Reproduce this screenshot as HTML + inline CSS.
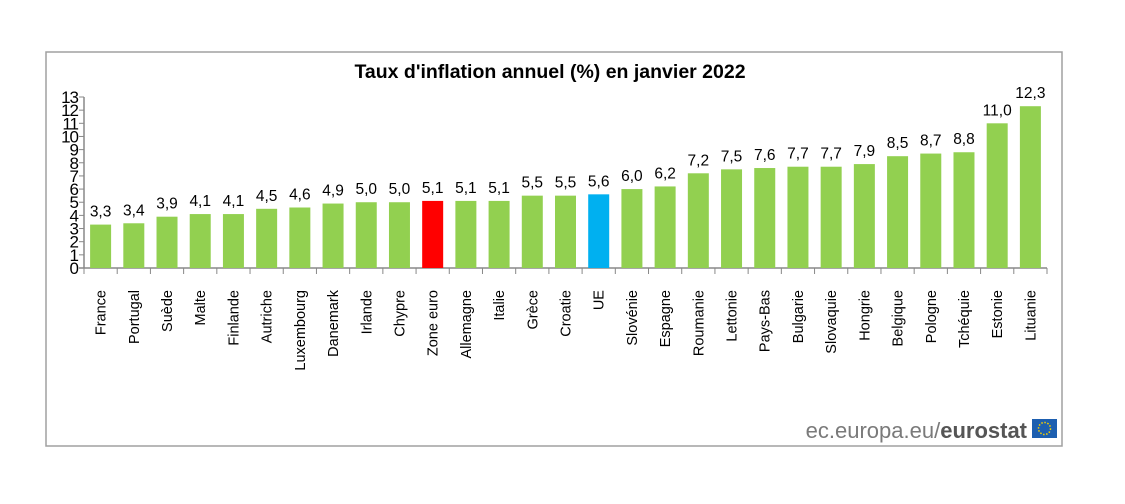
<!DOCTYPE html>
<html><head><meta charset="utf-8"><style>
body{margin:0;background:#fff;width:1125px;height:499px;overflow:hidden;font-family:"Liberation Sans",sans-serif}
</style></head><body>
<svg width="1125" height="499">
<rect x="46" y="52" width="1016" height="394" fill="#fff" stroke="#a0a0a0" stroke-width="1.5"/>
<text x="550" y="78" text-anchor="middle" font-size="19.5" font-weight="bold" fill="#000">Taux d'inflation annuel (%)  en janvier 2022</text>
<g id="plot"></g>
<text x="1027" y="438" text-anchor="end" font-size="22" fill="#7a7a7a">ec.europa.eu/<tspan font-weight="bold" fill="#555">eurostat</tspan></text>
<rect x="1032" y="419" width="25" height="19" fill="#1d5fb0"/>
<circle cx="1044.5" cy="428.5" r="6" fill="none" stroke="#f5d000" stroke-width="1.5" stroke-dasharray="1.5 1.6"/>
</svg>
<script>
const categories=["France","Portugal","Suède","Malte","Finlande","Autriche","Luxembourg","Danemark","Irlande","Chypre","Zone euro","Allemagne","Italie","Grèce","Croatie","UE","Slovénie","Espagne","Roumanie","Lettonie","Pays-Bas","Bulgarie","Slovaquie","Hongrie","Belgique","Pologne","Tchéquie","Estonie","Lituanie"];
const values=[3.3,3.4,3.9,4.1,4.1,4.5,4.6,4.9,5.0,5.0,5.1,5.1,5.1,5.5,5.5,5.6,6.0,6.2,7.2,7.5,7.6,7.7,7.7,7.9,8.5,8.7,8.8,11.0,12.3];
const yTicks=[0,1,2,3,4,5,6,7,8,9,10,11,12,13];
const NS="http://www.w3.org/2000/svg";
const g=document.getElementById('plot');
const x0=84,x1=1047,y0=268,yTop=97,yMax=13;
const step=(x1-x0)/categories.length;
const y=v=>y0-(v/yMax)*(y0-yTop);
const xc=i=>x0+step*(i+0.5);
function mk(t,a){const e=document.createElementNS(NS,t);for(const k in a)e.setAttribute(k,a[k]);g.appendChild(e);return e;}
let ax=mk('line',{x1:x0,y1:yTop,x2:x0,y2:y0,stroke:'#888','stroke-width':1.5});


let bx=mk('line',{x1:x0-5,y1:y0,x2:x1,y2:y0,stroke:'#888','stroke-width':1.5});


yTicks.forEach(v=>{
 let t=mk('line',{x1:x0-5,y1:y(v),x2:x0,y2:y(v),stroke:'#888'});
 
 
 let l=mk('text',{x:x0-6,y:y(v)+6,'text-anchor':'end','font-size':17,fill:'#000','letter-spacing':'-1'});
 l.textContent=v;
 
 
});
for(let i=0;i<=categories.length;i++){
 let t=mk('line',{x1:x0+step*i,y1:y0,x2:x0+step*i,y2:y0+6,stroke:'#888'});
 
 
}
categories.forEach((c,i)=>{
 const col=c==="Zone euro"?"#ff0000":c==="UE"?"#00b0f0":"#92d050";
 let r=mk('rect',{x:xc(i)-10.5,y:y(values[i]),width:21,height:y0-y(values[i]),fill:col});
 
 
 let v=mk('text',{x:xc(i),y:y(values[i])-8,'text-anchor':'middle','font-size':15.5,fill:'#000'});
 v.textContent=values[i].toFixed(1).replace('.',',');
 
 
 let l=mk('text',{x:xc(i)+5,y:290,'text-anchor':'end','font-size':14.5,fill:'#000',transform:`rotate(-90 ${xc(i)+5} 290)`});
 l.textContent=c;
 
 
});
</script>
</body></html>
